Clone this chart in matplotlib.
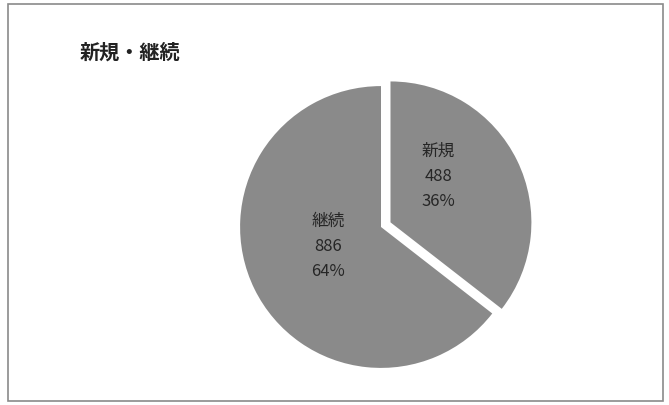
import numpy as np
import matplotlib
matplotlib.use("Agg")
import matplotlib.pyplot as plt
from matplotlib.patches import Rectangle

plt.rcParams['font.family'] = ['Noto Sans CJK JP', 'DejaVu Sans']

title = "新規・継続"
categories = ["新規", "継続"]
counts = [488, 886]
percents = [36, 64]

fig = plt.figure(figsize=(6.69, 4.05), dpi=100)
fig.patch.set_facecolor("white")

# frame around the whole chart
fig.patches.append(Rectangle((8 / 669, 4 / 405), 655 / 669, 397 / 405,
                             transform=fig.transFigure, fill=False,
                             edgecolor="#8a8a8a", linewidth=1.2))

fig.text(80 / 669, 1 - 52 / 405, title, fontsize=14.5, fontweight="bold",
         color="#222222", ha="left", va="center")

ax = fig.add_axes([226 / 669, 23 / 405, 310 / 669, 310 / 405])

labels = [f"{c}\n{n}\n{p}%" for c, n, p in zip(categories, counts, percents)]
wedges, texts = ax.pie(counts, labels=labels, startangle=90, counterclock=False,
                       explode=[0.075, 0], colors=["#8a8a8a", "#8a8a8a"],
                       labeldistance=0.45, radius=1.0,
                       wedgeprops=dict(linewidth=0),
                       textprops=dict(fontsize=12, color="#262626",
                                      ha="center", va="center", linespacing=1.6))

ax.set_xlim(-1.1, 1.1)
ax.set_ylim(-1.1, 1.1)
ax.set_aspect("equal")
ax.axis("off")

# label placement (polar offset from each wedge centre)
label_polar = [(0.47, 44), (0.40, 200)]
for w, t, (r, a) in zip(wedges, texts, label_polar):
    cx, cy = w.center
    t.set_position((cx + r * np.cos(np.radians(a)), cy + r * np.sin(np.radians(a))))
    t.set_ha("center")
    t.set_va("center")

fig.savefig("out.png", dpi=100)
